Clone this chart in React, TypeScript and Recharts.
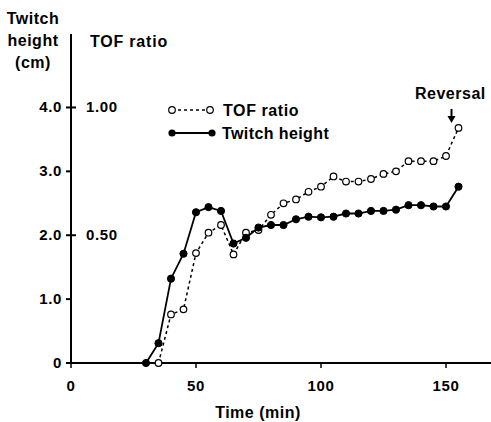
import React from "react"
import { LineChart, Line, XAxis, YAxis } from "recharts"

// minutes after dosing
const TIMES = [30, 35, 40, 45, 50, 55, 60, 65, 70, 75, 80, 85, 90, 95, 100, 105, 110, 115, 120, 125, 130, 135, 140, 145, 150, 155]
// twitch height, cm
const TWITCH = [0, 0.31, 1.32, 1.71, 2.36, 2.44, 2.38, 1.87, 1.96, 2.12, 2.16, 2.16, 2.25, 2.29, 2.28, 2.29, 2.34, 2.34, 2.38, 2.38, 2.4, 2.47, 2.47, 2.45, 2.45, 2.76]
// train-of-four ratio (no reading at 30 min)
const TOF = [null, 0, 0.19, 0.21, 0.43, 0.51, 0.54, 0.425, 0.51, 0.52, 0.58, 0.625, 0.64, 0.67, 0.69, 0.73, 0.71, 0.71, 0.72, 0.74, 0.75, 0.79, 0.79, 0.79, 0.81, 0.92]

const CM_TICKS = [0, 1, 2, 3, 4]
const CM_LABELS = ["0", "1.0", "2.0", "3.0", "4.0"]
const TOF_LABELS: Record<number, string> = { 4: "1.00", 2: "0.50" }
const TIME_TICKS = [0, 50, 100, 150]

const FONT = "'Liberation Sans', Arial, sans-serif"

// TOF 1.00 sits on 4.0 cm
const data = TIMES.map((t, i) => ({
  time: t,
  twitch: TWITCH[i],
  tof: TOF[i] == null ? null : (TOF[i] as number) * 4,
}))

const YTick = (props: any) => {
  const { x, y, payload } = props
  const v = payload.value
  const idx = CM_TICKS.indexOf(v)
  const cross = TOF_LABELS[v] !== undefined
  return (
    <g>
      <rect x={x - 5} y={y - 1} width={cross ? 10 : 5} height={2} fill="#000" />
      <text x={x - 9} y={y} dy={5} textAnchor="end" fontSize={15} fontWeight="bold" fontFamily={FONT} letterSpacing={0.6} fill="#000">
        {CM_LABELS[idx]}
      </text>
      {cross && (
        <text x={x + 15} y={y} dy={5} textAnchor="start" fontSize={15} fontWeight="bold" fontFamily={FONT} letterSpacing={0.6} fill="#000">
          {TOF_LABELS[v]}
        </text>
      )}
    </g>
  )
}

const OpenDot = (props: any) => {
  const { cx, cy } = props
  if (cx == null || cy == null) return null
  return <circle cx={cx} cy={cy} r={3.3} fill="#fff" stroke="#000" strokeWidth={1.2} />
}

const FilledDot = (props: any) => {
  const { cx, cy } = props
  if (cx == null || cy == null) return null
  return <circle cx={cx} cy={cy} r={3.6} fill="#000" stroke="#000" />
}

const txt = { fontFamily: FONT, fontWeight: "bold" as const, fontSize: 16, fill: "#000" }

export default function App() {
  return (
    <div style={{ position: "absolute", left: 0, top: 0, width: 491, height: 422, background: "#fff" }}>
      <LineChart width={491} height={422} data={data} margin={{ top: 34, right: 0, left: 11, bottom: 29 }}>
        <XAxis
          dataKey="time"
          type="number"
          domain={[0, 168]}
          ticks={TIME_TICKS}
          stroke="#000"
          axisLine={{ stroke: "#000", strokeWidth: 2 }}
          tickLine={{ stroke: "#000", strokeWidth: 1.5 }}
          tickSize={5}
          tickMargin={12}
          height={30}
          tick={{ fill: "#000", fontSize: 15, fontWeight: "bold", fontFamily: FONT, letterSpacing: 0.6 }}
        />
        <YAxis
          type="number"
          domain={[0, 5.15]}
          ticks={CM_TICKS}
          width={60}
          stroke="#000"
          axisLine={{ stroke: "#000", strokeWidth: 2 }}
          tickLine={false}
          tickSize={0}
          tickMargin={0}
          tick={<YTick />}
        />
        <Line
          dataKey="tof"
          stroke="#000"
          strokeWidth={1.5}
          strokeDasharray="3 3"
          dot={<OpenDot />}
          isAnimationActive={false}
        />
        <Line
          dataKey="twitch"
          stroke="#000"
          strokeWidth={1.8}
          dot={<FilledDot />}
          isAnimationActive={false}
        />
      </LineChart>
      <svg width={491} height={422} style={{ position: "absolute", left: 0, top: 0, pointerEvents: "none" }}>
        <text x={33} y={24} textAnchor="middle" {...txt} letterSpacing={0.5}>Twitch</text>
        <text x={33} y={46} textAnchor="middle" {...txt} letterSpacing={0.5}>height</text>
        <text x={33} y={68} textAnchor="middle" {...txt} letterSpacing={0.5}>(cm)</text>
        <text x={90} y={47} {...txt} letterSpacing={0.8}>TOF ratio</text>

        <line x1={172} x2={210} y1={110} y2={110} stroke="#000" strokeWidth={1.5} strokeDasharray="3 3" />
        <circle cx={172} cy={110} r={3.3} fill="#fff" stroke="#000" strokeWidth={1.2} />
        <circle cx={210} cy={110} r={3.3} fill="#fff" stroke="#000" strokeWidth={1.2} />
        <text x={223} y={116} {...txt} letterSpacing={0.6}>TOF ratio</text>

        <line x1={172} x2={212} y1={133} y2={133} stroke="#000" strokeWidth={1.8} />
        <circle cx={172} cy={133} r={3.6} fill="#000" />
        <circle cx={212} cy={133} r={3.6} fill="#000" />
        <text x={222} y={139} {...txt} letterSpacing={0.4}>Twitch height</text>

        <text x={415} y={99} {...txt} letterSpacing={0.5}>Reversal</text>
        <line x1={451.5} x2={451.5} y1={109} y2={118} stroke="#000" strokeWidth={2} />
        <path d="M447.5,116 L455.5,116 L451.5,123 Z" fill="#000" />

        <text x={258} y={418} textAnchor="middle" {...txt} letterSpacing={0.5}>Time (min)</text>
      </svg>
    </div>
  )
}
